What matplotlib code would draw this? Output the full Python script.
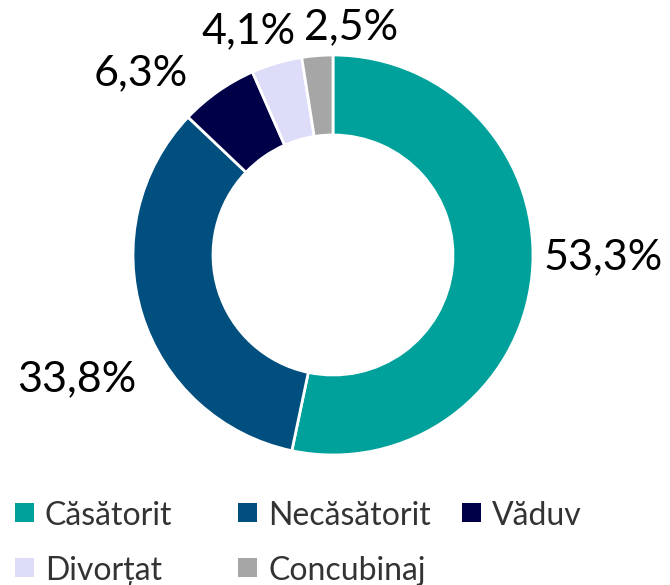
import matplotlib.pyplot as plt
from matplotlib.patches import Rectangle

labels = ['Căsătorit', 'Necăsătorit', 'Văduv', 'Divorțat', 'Concubinaj']
values = [53.3, 33.8, 6.3, 4.1, 2.5]
colors = ['#00A19A', '#004F7F', '#000048', '#DDDDFA', '#A6A6A6']

plt.rcParams['font.family'] = ['Lato', 'DejaVu Sans']

W, H = 670, 585
fig = plt.figure(figsize=(W / 100, H / 100), dpi=100)
ax = fig.add_axes([133 / W, 130 / H, 400 / W, 400 / H])

wedges, texts, pcts = ax.pie(values, colors=colors, startangle=90, counterclock=False,
                             radius=1.0, wedgeprops=dict(width=0.4, edgecolor='white', linewidth=2),
                             autopct='%1.1f%%', pctdistance=1.3)
for t, v in zip(pcts, values):
    t.set_text(f'{v:.1f}%'.replace('.', ','))
    t.set_fontsize(31)
    t.set_color('black')

# nudge labels to where the original puts them
label_pos = [(1.35, -0.01), (-1.28, -0.62), (-0.96, 0.91), (-0.42, 1.12), (0.09, 1.14)]
for t, p in zip(pcts, label_pos):
    t.set_position(p)

ax.set_xlim(-1, 1)
ax.set_ylim(-1, 1)
ax.set_aspect('equal')

# legend laid out by hand, 3 slots on the first row, 2 on the second
col_x = [15, 238, 462]
row_base = [525, 580]
slots = [(0, 0), (0, 1), (0, 2), (1, 0), (1, 1)]
box = 19
for (r, c), lab, col in zip(slots, labels, colors):
    x0 = col_x[c]
    yb = row_base[r]
    fig.add_artist(Rectangle((x0 / W, 1 - (yb - 3) / H), box / W, box / H,
                             transform=fig.transFigure, facecolor=col, edgecolor='none'))
    fig.text((x0 + 30) / W, 1 - yb / H, lab, fontsize=23, color='#333333',
             ha='left', va='baseline')

fig.savefig('out.png', dpi=100)
